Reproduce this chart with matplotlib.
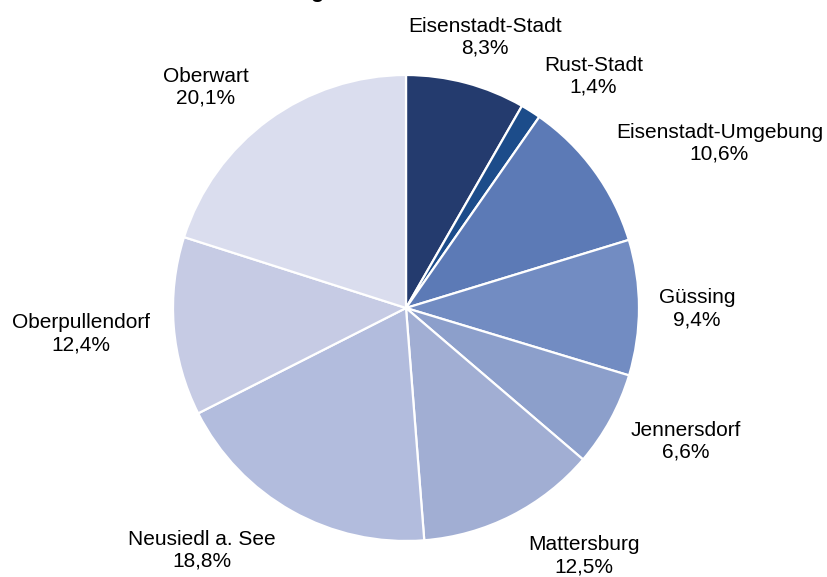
import numpy as np
import matplotlib
matplotlib.use("Agg")
import matplotlib.pyplot as plt

plt.rcParams['font.family'] = ['Liberation Sans', 'DejaVu Sans']

# Bezirke und Anteile (%)
bezirke = ['Eisenstadt-Stadt', 'Rust-Stadt', 'Eisenstadt-Umgebung', 'Güssing',
           'Jennersdorf', 'Mattersburg', 'Neusiedl a. See', 'Oberpullendorf', 'Oberwart']
anteile = [8.3, 1.4, 10.6, 9.4, 6.6, 12.5, 18.8, 12.4, 20.1]

colors = ['#243B6E', '#1C4C8A', '#5C7AB6', '#728CC2', '#8C9FCB',
          '#A1AED3', '#B2BCDD', '#C6CBE4', '#DADDEE']
# label placement: radius factor and angle tweak (degrees)
lab_r = [1.21, 1.28, 1.52, 1.25, 1.33, 1.31, 1.36, 1.40, 1.28]
lab_dt = [-1.3, -6.6, -8.3, -0.2, 3.2, 8.7, -10.8, -0.1, 6.1]

fig = plt.figure(figsize=(8.28, 5.77), dpi=100)
W, H = 828, 577
cx, cy, rad = 406, 308, 233
ax = fig.add_axes([(cx - rad) / W, (H - cy - rad) / H, 2 * rad / W, 2 * rad / H])

wedges, _ = ax.pie(anteile, colors=colors, startangle=90, counterclock=False,
                   radius=1.0, wedgeprops=dict(edgecolor='white', linewidth=1.6))
ax.set_xlim(-1, 1)
ax.set_ylim(-1, 1)
ax.set_aspect('equal')

for w, name, val, r, dt in zip(wedges, bezirke, anteile, lab_r, lab_dt):
    ang = np.deg2rad((w.theta1 + w.theta2) / 2 + dt)
    txt = f"{name}\n{str(val).replace('.', ',')}%"
    ax.text(r * np.cos(ang), r * np.sin(ang), txt, ha='center', va='center',
            fontsize=15, linespacing=1.2, clip_on=False)

# title is cut off at the top edge in the original
fig.text(0.405, 1 + 2.5 / H, 'Bevölkerung nach Bezirken', ha='center', va='baseline',
         fontsize=16, fontweight='bold')

fig.savefig('out.png', dpi=100)
